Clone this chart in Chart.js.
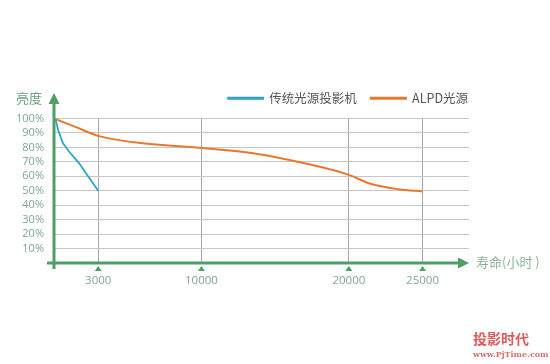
<!DOCTYPE html>
<html>
<head>
<meta charset="utf-8">
<script src="https://cdn.jsdelivr.net/npm/chart.js@4.4.1/dist/chart.umd.min.js"></script>
<style>
  html, body { margin: 0; padding: 0; background: #fff; }
</style>
</head>
<body>
<canvas id="lifeChart" width="550" height="364"></canvas>
<script>
// 数据（小时, 亮度%）
const xTicks = [3000, 10000, 20000, 25000];
const lampHours = [0, 130, 280, 600, 1030, 1670, 2310, 3000];
const lampBright = [100, 98.5, 92, 83, 77, 69.5, 60, 50];
const alpdHours = [0, 1500, 3000, 5300, 10000, 13500, 17000, 20000, 21400, 23400, 25000];
const alpdBright = [100, 94, 88, 83.7, 79.6, 76, 69, 61, 55, 51, 49.5];

const GREEN = "#4f9e66";
const LABEL = "#7fa892";
const BLUE = "#2ba6c8";
const ORANGE = "#e8782c";

function pts(xs, ys) {
    return xs.map((x, i) => ({ x: x, y: ys[i] }));
}

// 画坐标轴、箭头、标题
const axisArrows = {
    id: "axisArrows",
    afterLayout(chart) {
        // 图例右移、上移一点
        const lg = chart.legend;
        lg.left += 13;
        lg.right += 13;
        lg.top -= 4;
        lg.bottom -= 4;
    },
    afterDraw(chart) {
        const ctx = chart.ctx;
        const xs = chart.scales.x, ys = chart.scales.y;
        const x0 = xs.getPixelForValue(0);
        const y0 = ys.getPixelForValue(0);
        ctx.save();
        ctx.strokeStyle = GREEN;
        ctx.fillStyle = GREEN;
        ctx.lineWidth = 3;
        // x 轴
        ctx.beginPath();
        ctx.moveTo(x0 - 7, y0);
        ctx.lineTo(459, y0);
        ctx.stroke();
        ctx.beginPath();
        ctx.moveTo(458, y0 - 5.5);
        ctx.lineTo(469, y0);
        ctx.lineTo(458, y0 + 5.5);
        ctx.closePath();
        ctx.fill();
        // y 轴
        ctx.beginPath();
        ctx.moveTo(x0, y0 + 6);
        ctx.lineTo(x0, 103);
        ctx.stroke();
        ctx.beginPath();
        ctx.moveTo(x0 - 5.5, 104);
        ctx.lineTo(x0, 93);
        ctx.lineTo(x0 + 5.5, 104);
        ctx.closePath();
        ctx.fill();
        // 刻度三角
        xTicks.forEach(v => {
            const px = xs.getPixelForValue(v);
            ctx.beginPath();
            ctx.moveTo(px - 3.5, y0 + 8);
            ctx.lineTo(px, y0 + 3);
            ctx.lineTo(px + 3.5, y0 + 8);
            ctx.closePath();
            ctx.fill();
        });
        // 标题
        ctx.font = "13px 'Noto Sans CJK SC'";
        ctx.textBaseline = "middle";
        ctx.fillStyle = "#6aa27d";
        ctx.textAlign = "left";
        ctx.fillText("亮度", 16, 98);
        ctx.fillStyle = "#8ab49a";
        ctx.fillText("寿命(小时 )", 476, y0 - 1);
        // 水印
        ctx.fillStyle = "#e05a5a";
        ctx.font = "bold 14px 'Noto Sans CJK SC'";
        ctx.fillText("投影时代", 473, 339);
        ctx.font = "bold 8px 'DejaVu Serif'";
        ctx.fillStyle = "#d97070";
        ctx.fillText("www.PjTime.com", 473, 355);
        ctx.restore();
    }
};

new Chart(document.getElementById("lifeChart"), {
    type: "line",
    data: {
        datasets: [
            {
                label: "传统光源投影机",
                data: pts(lampHours, lampBright),
                borderColor: BLUE,
                backgroundColor: BLUE,
                borderWidth: 1.8,
                pointRadius: 0,
                tension: 0
            },
            {
                label: "ALPD光源",
                data: pts(alpdHours, alpdBright),
                borderColor: ORANGE,
                backgroundColor: ORANGE,
                borderWidth: 2,
                pointRadius: 0,
                cubicInterpolationMode: "monotone"
            }
        ]
    },
    options: {
        responsive: false,
        animation: false,
        devicePixelRatio: 1,
        layout: { padding: { top: 82, right: 81, left: 0, bottom: 0 } },
        plugins: {
            tooltip: { enabled: false },
            legend: {
                position: "top",
                align: "end",
                maxHeight: 40,
                labels: {
                    boxWidth: 35,
                    boxHeight: 1,
                    padding: 14,
                    color: "#555",
                    font: { family: "'Noto Sans CJK SC'", size: 12.5 }
                }
            }
        },
        scales: {
            x: {
                type: "linear",
                min: 0,
                max: 28150,
                afterBuildTicks: s => { s.ticks = xTicks.map(v => ({ value: v })); },
                afterFit: s => { s.height = 101; },
                border: { display: false },
                grid: { color: "#a8a8a8", lineWidth: 1, drawTicks: false },
                ticks: {
                    padding: 11,
                    maxRotation: 0,
                    color: LABEL,
                    font: { family: "'Open Sans'", size: 11.5 },
                    callback: v => String(v)
                }
            },
            y: {
                min: 0,
                max: 100,
                afterFit: s => { s.width = 54; },
                border: { display: false },
                grid: {
                    color: c => (c.tick && c.tick.value === 0) ? "rgba(0,0,0,0)" : "#c6c6c6",
                    lineWidth: 1,
                    drawTicks: false
                },
                ticks: {
                    stepSize: 10,
                    autoSkip: false,
                    padding: 10,
                    color: LABEL,
                    font: { family: "'Open Sans'", size: 11 },
                    callback: v => v === 0 ? "" : v + "%"
                }
            }
        }
    },
    plugins: [axisArrows]
});
</script>
</body>
</html>
